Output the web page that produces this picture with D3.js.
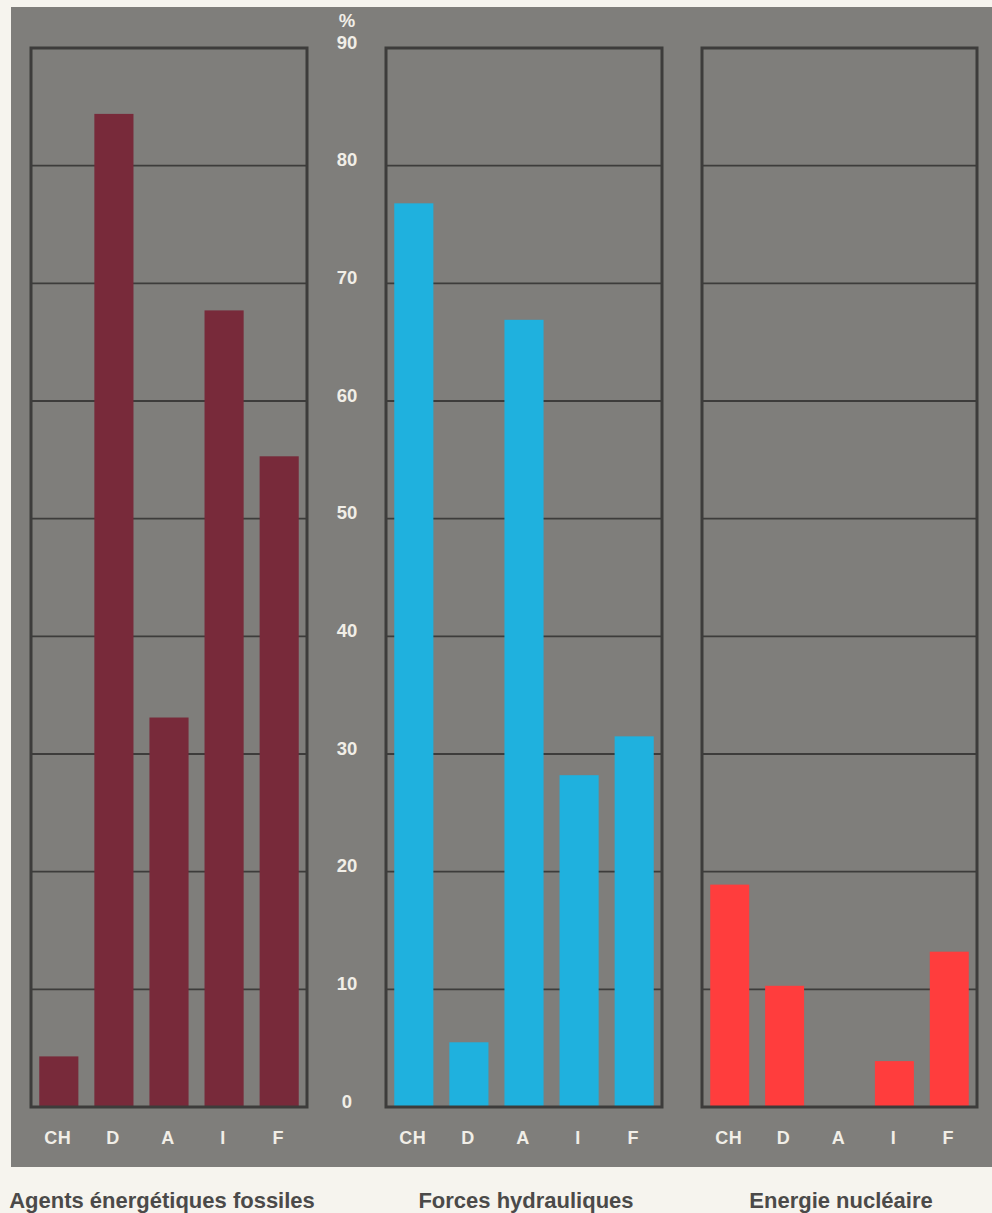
<!DOCTYPE html>
<html>
<head>
<meta charset="utf-8">
<script src="https://cdn.jsdelivr.net/npm/d3@7"></script>
<style>
  html, body { margin: 0; padding: 0; background: #f6f4ee; }
  svg { display: block; }
</style>
</head>
<body>
<script>
// ---- Data ----
const categories = ["CH", "D", "A", "I", "F"];
const fossilValues  = [4.3, 84.4, 33.1, 67.7, 55.3];
const hydroValues   = [76.8, 5.5, 66.9, 28.2, 31.5];
const nuclearValues = [18.9, 10.3, 0, 3.9, 13.2];
const panelTitles = ["Agents énergétiques fossiles", "Forces hydrauliques", "Energie nucléaire"];
const seriesColors = ["#782a3a", "#1fb1de", "#ff3d3d"];
const yTicks = [0, 10, 20, 30, 40, 50, 60, 70, 80, 90];
const yUnit = "%";

// ---- Layout ----
const W = 992, H = 1213;
const svg = d3.select("body").append("svg").attr("width", W).attr("height", H);

svg.append("rect").attr("x", 0).attr("y", 0).attr("width", W).attr("height", H).attr("fill", "#f6f4ee");
svg.append("rect").attr("x", 11).attr("y", 7).attr("width", W - 11).attr("height", 1160).attr("fill", "#7f7e7b");

const y = d3.scaleLinear().domain([0, 90]).range([1107, 48]);

const panels = [
  { values: fossilValues,  x0: 31,  x1: 307, title: panelTitles[0], color: seriesColors[0], tx: 162 },
  { values: hydroValues,   x0: 386, x1: 662, title: panelTitles[1], color: seriesColors[1], tx: 526 },
  { values: nuclearValues, x0: 702, x1: 977, title: panelTitles[2], color: seriesColors[2], tx: 841 }
];

const frameColor = "#3d3c3b";
const labelColor = "#f1eee7";
const font = "'Liberation Sans', Arial, Helvetica, sans-serif";

panels.forEach(p => {
  const g = svg.append("g");
  const x = d3.scaleBand().domain(categories).range([p.x0, p.x1]).paddingInner(0.29).paddingOuter(0.15);

  // grid lines
  g.selectAll("line.grid").data(yTicks.filter(t => t > 0 && t < 90)).enter().append("line")
    .attr("x1", p.x0).attr("x2", p.x1)
    .attr("y1", d => y(d)).attr("y2", d => y(d))
    .attr("stroke", frameColor).attr("stroke-width", 1.8);

  // bars
  g.selectAll("rect.bar").data(categories.map((c, i) => ({ c, v: p.values[i] }))).enter().append("rect")
    .attr("x", d => x(d.c)).attr("width", x.bandwidth())
    .attr("y", d => y(d.v)).attr("height", d => y(0) - y(d.v))
    .attr("fill", p.color);

  // frame
  g.append("rect").attr("x", p.x0).attr("y", y(90)).attr("width", p.x1 - p.x0).attr("height", y(0) - y(90))
    .attr("fill", "none").attr("stroke", frameColor).attr("stroke-width", 3);

  // x labels
  g.selectAll("text.xl").data(categories).enter().append("text")
    .attr("x", d => x(d) + x.bandwidth() / 2 - 1).attr("y", 1144)
    .attr("text-anchor", "middle")
    .attr("font-family", font).attr("font-weight", "bold").attr("font-size", 18)
    .attr("letter-spacing", 0.5)
    .attr("fill", labelColor)
    .text(d => d);

  // title
  svg.append("text").attr("x", p.tx).attr("y", 1208)
    .attr("text-anchor", "middle")
    .attr("font-family", font).attr("font-weight", "bold").attr("font-size", 22)
    .attr("fill", "#4b4a49")
    .text(p.title);
});

// y axis labels between first and second panel
const yAxis = d3.axisLeft(y).tickValues(yTicks).tickSize(0).tickFormat(d3.format("d"));
const ya = svg.append("g").attr("transform", "translate(347,0)").call(yAxis);
ya.select(".domain").remove();
ya.selectAll("text")
  .attr("x", 0).attr("dy", 0).attr("text-anchor", "middle")
  .attr("font-family", font).attr("font-weight", "bold").attr("font-size", 18.5)
  .attr("fill", labelColor);

svg.append("text").attr("x", 347).attr("y", y(90) - 21).attr("text-anchor", "middle")
  .attr("font-family", font).attr("font-weight", "bold").attr("font-size", 18.5)
  .attr("fill", labelColor).text(yUnit);
</script>
</body>
</html>
